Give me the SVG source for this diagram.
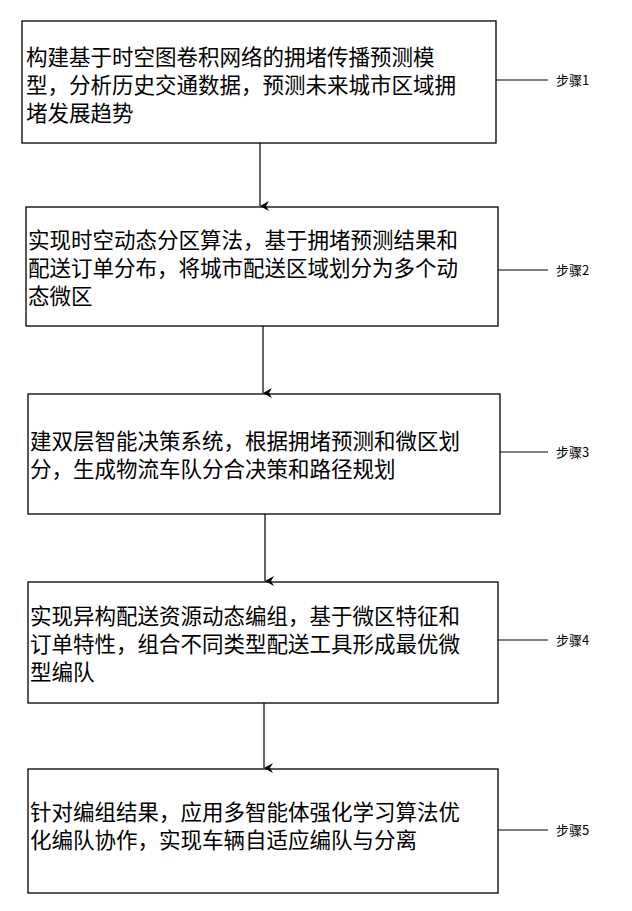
<svg xmlns="http://www.w3.org/2000/svg" width="632" height="911" viewBox="0 0 632 911">
<defs><marker id="a" markerWidth="10" markerHeight="10" refX="5" refY="9" orient="auto" markerUnits="userSpaceOnUse"><path d="M0,0 L5,9 L10,0 L5,3 Z" fill="#000"/></marker></defs>
<style>.b{fill:#fff;stroke:#000;stroke-width:1.3}text{font-family:"Noto Sans CJK SC",sans-serif;font-size:21.5px;fill:#000}.s{font-size:13px}line{stroke:#000;stroke-width:1.2}</style>
<rect width="632" height="911" fill="#fff"/>
<g id="n1"><rect class="b" x="22" y="21" width="474" height="122"/><text x="26" y="65">构建基于时空图卷积网络的拥堵传播预测模</text><text x="26" y="93">型，分析历史交通数据，预测未来城市区域拥</text><text x="26" y="121">堵发展趋势</text></g>
<g id="n2"><rect class="b" x="26" y="207" width="472" height="119"/><text x="28" y="248">实现时空动态分区算法，基于拥堵预测结果和</text><text x="28" y="276">配送订单分布，将城市配送区域划分为多个动</text><text x="28" y="304">态微区</text></g>
<g id="n3"><rect class="b" x="28" y="394" width="472" height="120"/><text x="30" y="449">建双层智能决策系统，根据拥堵预测和微区划</text><text x="30" y="477">分，生成物流车队分合决策和路径规划</text></g>
<g id="n4"><rect class="b" x="28" y="582" width="470" height="121"/><text x="30" y="624">实现异构配送资源动态编组，基于微区特征和</text><text x="30" y="652">订单特性，组合不同类型配送工具形成最优微</text><text x="30" y="680">型编队</text></g>
<g id="n5"><rect class="b" x="28" y="769" width="470" height="124"/><text x="30" y="820">针对编组结果，应用多智能体强化学习算法优</text><text x="30" y="848">化编队协作，实现车辆自适应编队与分离</text></g>
<g id="labels"><text class="s" x="556" y="85">步骤1</text><text class="s" x="556" y="275">步骤2</text><text class="s" x="556" y="457">步骤3</text><text class="s" x="556" y="645">步骤4</text><text class="s" x="556" y="835">步骤5</text></g>
<g id="connectors">
<line x1="260" y1="143" x2="260" y2="206" marker-end="url(#a)"/>
<line x1="263" y1="326" x2="263" y2="393" marker-end="url(#a)"/>
<line x1="265" y1="514" x2="265" y2="581" marker-end="url(#a)"/>
<line x1="264" y1="703" x2="264" y2="768" marker-end="url(#a)"/>
<line x1="496" y1="80" x2="548" y2="80"/>
<line x1="498" y1="270" x2="548" y2="270"/>
<line x1="500" y1="452" x2="548" y2="452"/>
<line x1="498" y1="640" x2="548" y2="640"/>
<line x1="498" y1="830" x2="548" y2="830"/>
</g>
</svg>
